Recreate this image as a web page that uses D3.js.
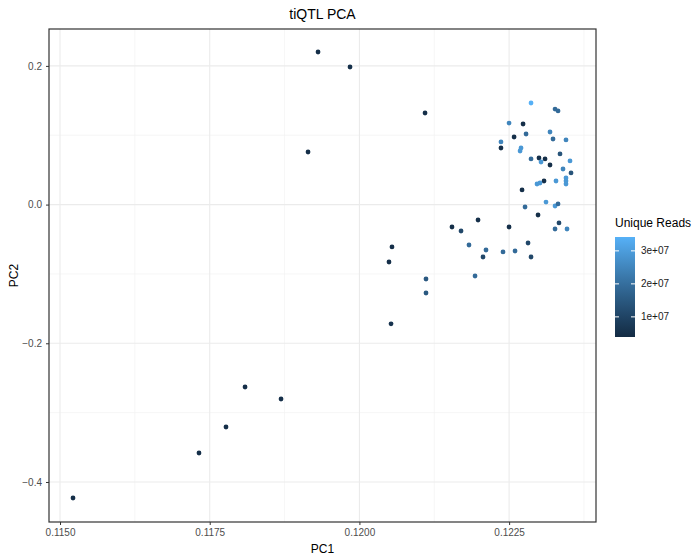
<!DOCTYPE html>
<html>
<head>
<meta charset="utf-8">
<script src="https://cdn.jsdelivr.net/npm/d3@7/dist/d3.min.js"></script>
<style>
  body { margin: 0; background: #fff; }
  text { font-family: "Liberation Sans", Arial, sans-serif; }
</style>
</head>
<body>
<div id="chart"></div>
<script>
// PCA 座標 (PC1, PC2) 與 unique reads
const pc1 = [
  0.115217, 0.117321, 0.117772, 0.118090, 0.118691, 0.119142, 0.119309, 0.119843,
  0.120494, 0.120544, 0.120528, 0.121096, 0.121112, 0.121112,
  0.121546, 0.121697, 0.121981, 0.121830, 0.122114, 0.122064, 0.122499, 0.122398,
  0.122599, 0.121931, 0.122766, 0.123116, 0.123267, 0.123317, 0.122983, 0.123333,
  0.123267, 0.123467, 0.122816, 0.122866, 0.122866, 0.123267, 0.123317, 0.122499,
  0.122733, 0.122583, 0.122783, 0.123183, 0.123233, 0.123450, 0.122364, 0.122364,
  0.122699, 0.122683, 0.122866, 0.122999, 0.123100, 0.123033, 0.123183, 0.123350,
  0.123517, 0.123400, 0.123534, 0.123450, 0.123450, 0.123450, 0.123083, 0.122966,
  0.123016, 0.123283, 0.122716
];
const pc2 = [
  -0.4231, -0.3582, -0.3207, -0.2630, -0.2803, 0.0758, 0.2200, 0.1984,
  -0.0828, -0.0611, -0.1720, 0.1321, -0.1073, -0.1275,
  -0.0323, -0.0381, -0.0222, -0.0583, -0.0655, -0.0756, -0.0323, -0.0683,
  -0.0669, -0.1030, -0.0035, 0.0037, -0.0020, 0.0009, -0.0150, -0.0265,
  -0.0352, -0.0352, -0.0554, -0.0756, 0.1465, 0.1378, 0.1350, 0.1176,
  0.1162, 0.0975, 0.1018, 0.1047, 0.0946, 0.0932, 0.0903, 0.0816,
  0.0816, 0.0773, 0.0658, 0.0672, 0.0658, 0.0614, 0.0571, 0.0730,
  0.0629, 0.0513, 0.0456, 0.0384, 0.0340, 0.0297, 0.0340, 0.0297,
  0.0311, 0.0340, 0.0211
];
const uniqueReads = [
  5e6, 5e6, 5e6, 5e6, 5e6, 5e6, 5e6, 5e6,
  5e6, 5e6, 6e6, 5e6, 1.5e7, 1.5e7,
  5e6, 1.1e7, 5e6, 1.9e7, 1.9e7, 1.1e7, 5e6, 1.9e7,
  1.9e7, 1.9e7, 1.9e7, 2.9e7, 2.9e7, 1.9e7, 5e6, 1.1e7,
  1.9e7, 2.5e7, 1.1e7, 1.1e7, 3.4e7, 1.9e7, 1.9e7, 2.5e7,
  5e6, 5e6, 1.9e7, 2.5e7, 1.9e7, 2.5e7, 2.5e7, 5e6,
  2.9e7, 2.9e7, 1.9e7, 5e6, 5e6, 2.9e7, 5e6, 1.4e7,
  2.9e7, 2.5e7, 1.4e7, 2.9e7, 2.9e7, 2.9e7, 5e6, 2.9e7,
  2.9e7, 2.9e7, 5e6
];
const xTicks = [0.115, 0.1175, 0.12, 0.1225];
const xMinor = [0.11625, 0.11875, 0.12125, 0.12375];
const yTicks = [0.2, 0.0, -0.2, -0.4];
const yMinor = [0.1, -0.1, -0.3];
const legendTicks = [1e7, 2e7, 3e7];
const readsRange = [3.9e6, 3.42e7];

const data = pc1.map((d, i) => ({ pc1: d, pc2: pc2[i], reads: uniqueReads[i] }));

// 畫布
const W = 696, H = 560;
const panel = { left: 49, top: 29, right: 596, bottom: 522 };

const svg = d3.select("#chart").append("svg")
    .attr("width", W)
    .attr("height", H);

// 比例尺
const x = d3.scaleLinear()
    .domain([0.114816, 0.123951])
    .range([panel.left, panel.right]);
const y = d3.scaleLinear()
    .domain([-0.4577, 0.2532])
    .range([panel.bottom, panel.top]);
const color = d3.scaleLinear()
    .domain(readsRange)
    .range(["#132B43", "#56B1F7"])
    .interpolate(d3.interpolateLab);

// 網格
const grid = svg.append("g");
grid.selectAll(".xminor").data(xMinor).enter().append("line")
    .attr("x1", d => x(d)).attr("x2", d => x(d))
    .attr("y1", panel.top).attr("y2", panel.bottom)
    .attr("stroke", "#f2f2f2").attr("stroke-width", 0.7);
grid.selectAll(".yminor").data(yMinor).enter().append("line")
    .attr("y1", d => y(d)).attr("y2", d => y(d))
    .attr("x1", panel.left).attr("x2", panel.right)
    .attr("stroke", "#f2f2f2").attr("stroke-width", 0.7);
grid.selectAll(".xmajor").data(xTicks).enter().append("line")
    .attr("x1", d => x(d)).attr("x2", d => x(d))
    .attr("y1", panel.top).attr("y2", panel.bottom)
    .attr("stroke", "#ebebeb").attr("stroke-width", 1.1);
grid.selectAll(".ymajor").data(yTicks).enter().append("line")
    .attr("y1", d => y(d)).attr("y2", d => y(d))
    .attr("x1", panel.left).attr("x2", panel.right)
    .attr("stroke", "#ebebeb").attr("stroke-width", 1.1);

// 點
svg.selectAll(".dot")
    .data(data)
    .enter()
    .append("circle")
    .attr("class", "dot")
    .attr("cx", d => x(d.pc1))
    .attr("cy", d => y(d.pc2))
    .attr("r", 2.4)
    .attr("fill", d => color(d.reads));

// 外框
svg.append("rect")
    .attr("x", panel.left).attr("y", panel.top)
    .attr("width", panel.right - panel.left)
    .attr("height", panel.bottom - panel.top)
    .attr("fill", "none")
    .attr("stroke", "#333333")
    .attr("stroke-width", 1.2);

// 軸
const xAxis = svg.append("g")
    .attr("transform", `translate(0,${panel.bottom})`)
    .call(d3.axisBottom(x).tickValues(xTicks).tickFormat(d3.format(".4f")).tickSize(3).tickPadding(4));
const yAxis = svg.append("g")
    .attr("transform", `translate(${panel.left},0)`)
    .call(d3.axisLeft(y).tickValues(yTicks).tickFormat(d3.format(".1f")).tickSize(3).tickPadding(4));
[xAxis, yAxis].forEach(a => {
    a.select(".domain").remove();
    a.selectAll(".tick line").attr("stroke", "#333333");
    a.selectAll(".tick text")
        .attr("fill", "#4d4d4d")
        .style("font-size", "10px")
        .style("font-family", "'Liberation Sans', Arial, sans-serif");
});

// 標題
svg.append("text")
    .attr("x", (panel.left + panel.right) / 2)
    .attr("y", 19)
    .attr("text-anchor", "middle")
    .style("font-size", "14px")
    .text("tiQTL PCA");

svg.append("text")
    .attr("x", (panel.left + panel.right) / 2)
    .attr("y", 553)
    .attr("text-anchor", "middle")
    .style("font-size", "12px")
    .text("PC1");

svg.append("text")
    .attr("transform", `translate(18,${(panel.top + panel.bottom) / 2}) rotate(-90)`)
    .attr("text-anchor", "middle")
    .style("font-size", "12px")
    .text("PC2");

// 圖例
const legend = { x: 615, top: 237, bottom: 337, width: 20 };
const ly = d3.scaleLinear().domain(readsRange).range([legend.bottom, legend.top]);

const grad = svg.append("defs").append("linearGradient")
    .attr("id", "readsGrad")
    .attr("x1", "0").attr("y1", "1").attr("x2", "0").attr("y2", "0");
d3.range(0, 1.0001, 0.1).forEach(t => {
    grad.append("stop")
        .attr("offset", t)
        .attr("stop-color", color(readsRange[0] + t * (readsRange[1] - readsRange[0])));
});

svg.append("text")
    .attr("x", legend.x)
    .attr("y", 227)
    .style("font-size", "12px")
    .text("Unique Reads");

svg.append("rect")
    .attr("x", legend.x).attr("y", legend.top)
    .attr("width", legend.width)
    .attr("height", legend.bottom - legend.top)
    .attr("fill", "url(#readsGrad)");

legendTicks.forEach(v => {
    svg.append("line")
        .attr("x1", legend.x).attr("x2", legend.x + 4)
        .attr("y1", ly(v)).attr("y2", ly(v))
        .attr("stroke", "#fff").attr("stroke-width", 1);
    svg.append("line")
        .attr("x1", legend.x + legend.width - 4).attr("x2", legend.x + legend.width)
        .attr("y1", ly(v)).attr("y2", ly(v))
        .attr("stroke", "#fff").attr("stroke-width", 1);
    svg.append("text")
        .attr("x", legend.x + legend.width + 6)
        .attr("y", ly(v))
        .attr("dy", "0.35em")
        .style("font-size", "10px")
        .attr("fill", "#1a1a1a")
        .text(d3.format(".0e")(v).replace("e+", "e+0"));
});
</script>
</body>
</html>
